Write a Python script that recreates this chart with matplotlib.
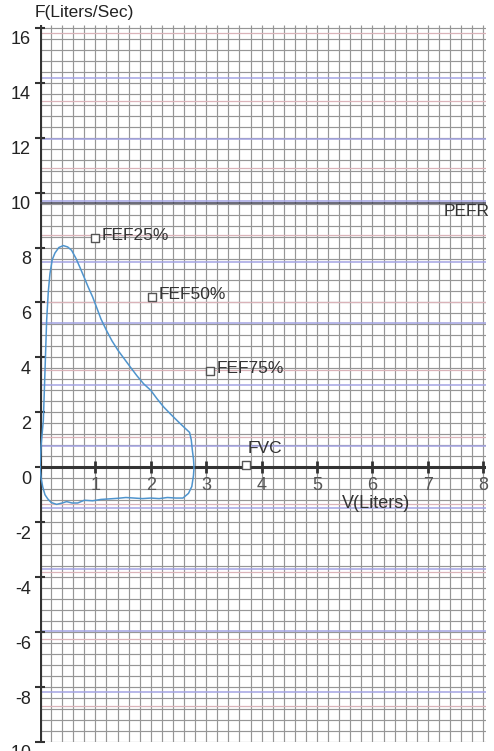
import numpy as np
import matplotlib
matplotlib.use("Agg")
import matplotlib.pyplot as plt
from matplotlib.transforms import ScaledTranslation

plt.rcParams['font.family'] = ['Liberation Sans', 'DejaVu Sans']

# Flow-volume loop (V in liters, F in liters/sec)
loop_v = [0.0, 0.02, 0.06, 0.09, 0.12, 0.15, 0.18, 0.22, 0.27, 0.34, 0.42, 0.50,
          0.57, 0.65, 0.72, 0.80, 0.87, 0.95, 1.02, 1.10, 1.20, 1.30, 1.41, 1.52,
          1.63, 1.75, 1.87, 2.00, 2.11, 2.23, 2.35, 2.50, 2.62, 2.70, 2.73, 2.75,
          2.77, 2.78, 2.77, 2.74, 2.68, 2.58, 2.45, 2.30, 2.15, 2.00, 1.85, 1.70,
          1.55, 1.40, 1.25, 1.10, 0.95, 0.80, 0.68, 0.58, 0.48, 0.40, 0.30, 0.20,
          0.14, 0.09, 0.05, 0.02, 0.0]
loop_f = [0.0, 0.8, 1.7, 3.5, 5.35, 6.4, 7.05, 7.55, 7.8, 8.0, 8.07, 8.02,
          7.9, 7.6, 7.28, 6.9, 6.56, 6.2, 5.83, 5.4, 4.98, 4.6, 4.25, 3.95,
          3.65, 3.33, 3.04, 2.8, 2.5, 2.2, 1.95, 1.65, 1.42, 1.27, 1.0, 0.62,
          0.3, 0.0, -0.3, -0.7, -0.95, -1.12, -1.12, -1.1, -1.14, -1.12, -1.14, -1.12,
          -1.1, -1.13, -1.15, -1.17, -1.22, -1.2, -1.3, -1.3, -1.25, -1.3, -1.35, -1.28,
          -1.15, -1.0, -0.72, -0.4, 0.0]

# Reference points
point_names = ['FEF25%', 'FEF50%', 'FEF75%', 'FVC']
point_v = [0.99, 2.02, 3.07, 3.72]
point_f = [8.33, 6.2, 3.5, 0.08]

pefr_value = 9.62

x_ticks = [1, 2, 3, 4, 5, 6, 7, 8]
y_ticks = [-10, -8, -6, -4, -2, 0, 2, 4, 6, 8, 10, 12, 14, 16]

fig = plt.figure(figsize=(4.94, 7.51), dpi=100)
ax = fig.add_axes([40 / 494, 9 / 751, 446 / 494, 717 / 751])
ax.set_xlim(0, 8.05)
ax.set_ylim(-10, 16.1)

# graph paper
grid_gray = '#969696'
ax.vlines(np.arange(0, 8.06, 0.2), -10, 16.1, color=grid_gray, lw=0.85, zorder=1)
ax.hlines(np.arange(-10, 16.11, 0.4), 0, 8.05, color=grid_gray, lw=0.85, zorder=1)
ax.hlines(np.arange(15.8, -10, -2.45), 0, 8.05, color='#dbb3b9', lw=0.9, zorder=1.2)
ax.hlines(np.arange(14.18, -10, -2.236), 0, 8.05, color='#a4a4e4', lw=1.1, zorder=1.3)

# axes lines
ax.axhline(0, color='#333333', lw=2.2, zorder=3)
ax.axvline(0, color='#333333', lw=3.0, zorder=3)
for s in ax.spines.values():
    s.set_visible(False)

# PEFR line
ax.axhline(pefr_value, color='#444455', lw=1.1, zorder=3)
ax.text(7.28, pefr_value - 0.32, 'PEFR', fontsize=12.5, color='#333333',
        va='center', ha='left', clip_on=False, zorder=5)

# loop
ax.plot(loop_v, loop_f, color='#4f94cd', lw=1.1, zorder=4)

# marker points
ax.scatter(point_v, point_f, marker='s', s=40, facecolors='white',
           edgecolors='#555555', linewidths=1.0, zorder=5)
for name, v, f in zip(point_names, point_v, point_f):
    if name == 'FVC':
        ax.text(v + 0.03, f + 0.62, name, fontsize=12.5, color='#333333',
                ha='left', va='center', zorder=5)
    else:
        ax.text(v + 0.12, f + 0.1, name, fontsize=12.5, color='#333333',
                ha='left', va='center', zorder=5)

# ticks
ax.set_xticks([])
ax.set_yticks(y_ticks)
ax.set_yticklabels([str(t) for t in y_ticks], fontsize=13, color='#222222')
ax.tick_params(axis='y', direction='inout', length=7, width=1.5, color='#333333', pad=3)
ax.plot(x_ticks, [0] * len(x_ticks), linestyle='none', marker='|', ms=8,
        mew=2, color='#333333', zorder=3)
for t in x_ticks:
    ax.text(t, -0.68, str(t), fontsize=13, color='#555555', ha='center',
            va='center', zorder=5)

# y labels sit a bit below their ticks
for lab in ax.get_yticklabels():
    lab.set_transform(lab.get_transform() + ScaledTranslation(0, -0.10, fig.dpi_scale_trans))

ax.text(5.45, -1.3, 'V(Liters)', fontsize=13, color='#333333', ha='left', va='center', zorder=5)
fig.text(35 / 494, 1 - 13 / 751, 'F(Liters/Sec)', fontsize=12.5, color='#222222',
         ha='left', va='center')

fig.savefig('out.png', dpi=100, facecolor='white')
